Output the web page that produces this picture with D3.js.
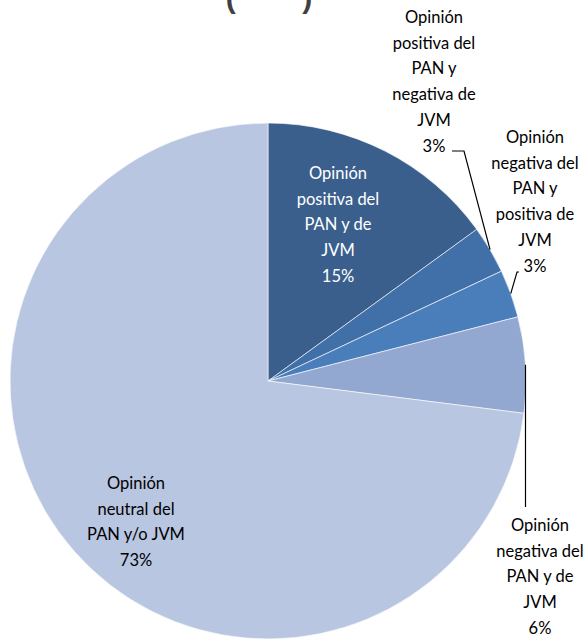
<!DOCTYPE html>
<html>
<head>
  <style type="text/css">
    body { margin: 0; background: #fff; }
    .lbl { font: 16.5px Lato, "Open Sans", sans-serif; }
    .title { font: bold 30px "Liberation Sans", Arial, sans-serif; fill: #404040; white-space: pre; }
    .leader { fill: none; stroke: #000; stroke-width: 1.2; }
  </style>
</head>
<body>
  <div class="svg_container"></div>

  <script src="https://cdnjs.cloudflare.com/ajax/libs/d3/7.8.5/d3.min.js"></script>
  <script type="text/javascript">
    // chart data
    var categories = [
      "Opinión positiva del PAN y de JVM",
      "Opinión positiva del PAN y negativa de JVM",
      "Opinión negativa del PAN y positiva de JVM",
      "Opinión negativa del PAN y de JVM",
      "Opinión neutral del PAN y/o JVM"
    ];
    var values = [15, 3, 3, 6, 73];
    var labelLines = [
      ["Opinión", "positiva del", "PAN y de", "JVM"],
      ["Opinión", "positiva del", "PAN y", "negativa de", "JVM"],
      ["Opinión", "negativa del", "PAN y", "positiva de", "JVM"],
      ["Opinión", "negativa del", "PAN y de", "JVM"],
      ["Opinión", "neutral del", "PAN y/o JVM"]
    ];
    var colors = ["#3B5F8D", "#4170A8", "#4A7EBB", "#93A8D0", "#B9C6E1"];

    var width = 588, height = 640;
    var cx = 268, cy = 381, radius = 258;
    var lineH = 25.8;

    // label layout: centre x, first line y, text colour, leader anchor
    var labelLayout = [
      { x: 338, y: 173, fill: "#fff" },
      { x: 434, y: 17, fill: "#000", leader: "hook" },
      { x: 535, y: 137, fill: "#000", leader: "short" },
      { x: 540, y: 525, fill: "#000", leader: "vert" },
      { x: 136, y: 483, fill: "#000" }
    ];

    var svg = d3.select(".svg_container").append("svg")
      .attr("width", width)
      .attr("height", height);

    // title (only the bottom of it is in view)
    svg.append("text")
      .attr("class", "title")
      .attr("x", cx + 1)
      .attr("y", 8)
      .attr("text-anchor", "middle")
      .text("(\u00a0\u00a0\u00a0\u00a0\u00a0\u00a0\u00a0\u00a0)");

    var pie = d3.pie().sort(null).value(function(d) { return d; });
    var arc = d3.arc().innerRadius(0).outerRadius(radius);
    var arcs = pie(values);

    var g = svg.append("g")
      .attr("transform", "translate(" + cx + "," + cy + ")");

    g.selectAll(".slice")
      .data(arcs)
      .enter().append("path")
      .attr("class", "slice")
      .attr("d", arc)
      .attr("fill", function(d, i) { return colors[i]; })
      .attr("stroke", "#fff")
      .attr("stroke-width", 0.6);

    // leader lines
    function edgePoint(d) {
      var a = (d.startAngle + d.endAngle) / 2;
      return [cx + radius * Math.sin(a), cy - radius * Math.cos(a)];
    }
    arcs.forEach(function(d, i) {
      var lay = labelLayout[i];
      if (!lay.leader) return;
      var p = edgePoint(d);
      var n = labelLines[i].length;
      var pts;
      if (lay.leader == "hook") {
        var yy = lay.y + n * lineH + 5;
        pts = [[lay.x + 18, yy], [lay.x + 30, yy], p];
      } else if (lay.leader == "short") {
        var y2 = lay.y + n * lineH + 8;
        pts = [[lay.x - 16, y2 - 2], [lay.x - 18, y2 - 2], p];
      } else {
        pts = [p, [p[0], lay.y - 18]];
      }
      svg.append("path")
        .attr("class", "leader")
        .attr("d", d3.line()(pts));
    });

    // labels
    arcs.forEach(function(d, i) {
      var lay = labelLayout[i];
      var lines = labelLines[i].concat([d.data + "%"]);
      var t = svg.append("text")
        .attr("class", "lbl")
        .attr("text-anchor", "middle")
        .attr("fill", lay.fill);
      lines.forEach(function(s, k) {
        t.append("tspan")
          .attr("x", lay.x)
          .attr("y", lay.y + k * lineH)
          .attr("dy", "0.35em")
          .text(s);
      });
    });
  </script>
</body>
</html>
